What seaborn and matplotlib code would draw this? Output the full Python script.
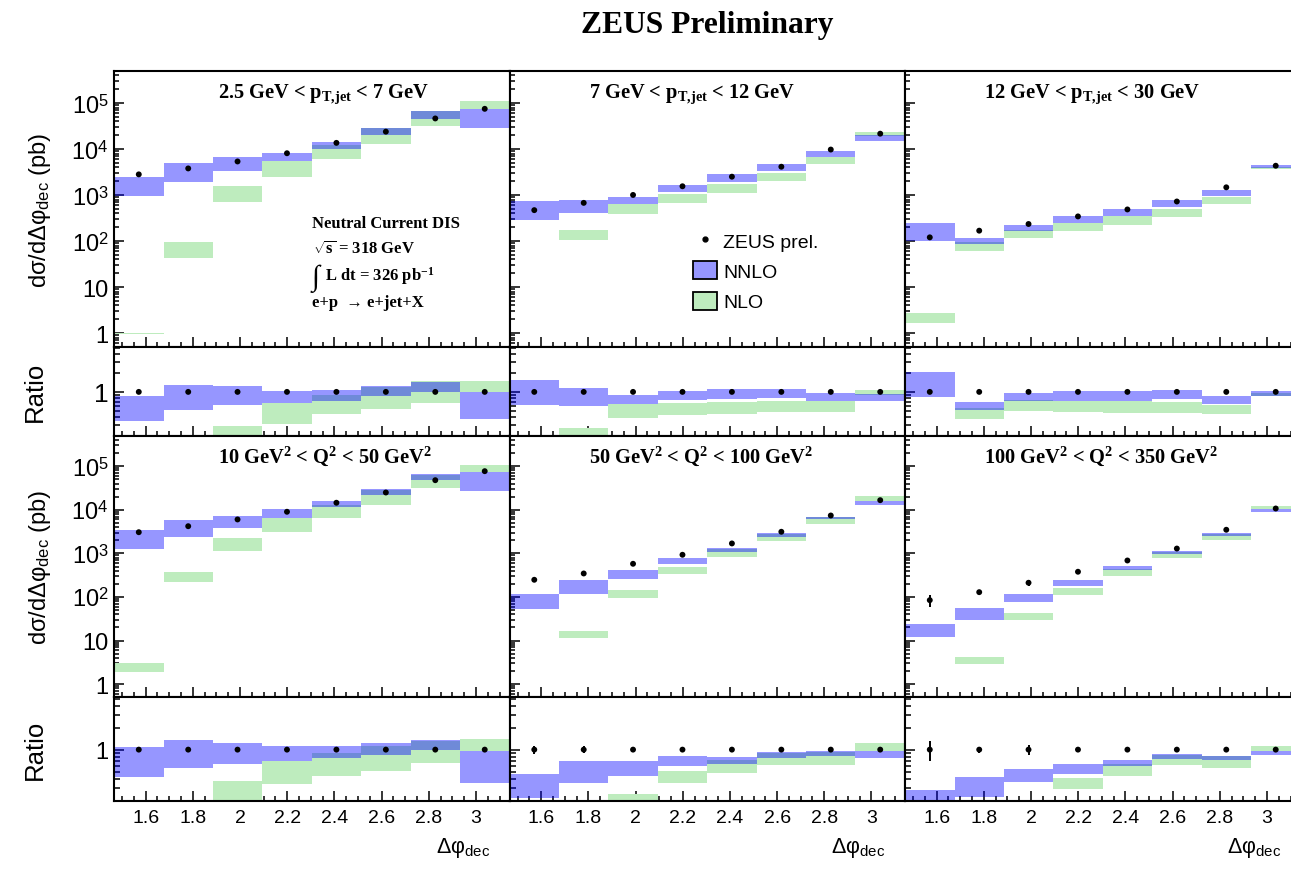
import numpy as np
import matplotlib
matplotlib.use("Agg")
import matplotlib.pyplot as plt
import seaborn as sns
from matplotlib.patches import Patch
from matplotlib.lines import Line2D
from matplotlib.ticker import FixedLocator, FixedFormatter, NullFormatter, MultipleLocator

# ---- binning in delta-phi_dec (radians) ----
bin_edges = [1.466, 1.676, 1.885, 2.094, 2.304, 2.513, 2.723, 2.932, 3.142]
x_ticks = [1.6, 1.8, 2.0, 2.2, 2.4, 2.6, 2.8, 3.0]
x_tick_labels = ["1.6", "1.8", "2", "2.2", "2.4", "2.6", "2.8", "3"]
y_ticks = [1, 10, 1e2, 1e3, 1e4, 1e5]
y_tick_labels = ["1", "10", "10$^{\\mathsf{2}}$", "10$^{\\mathsf{3}}$",
                 "10$^{\\mathsf{4}}$", "10$^{\\mathsf{5}}$"]
ratio_minor = [0.2, 0.3, 0.4, 0.5, 0.6, 0.7, 0.8, 0.9, 2, 3, 4, 5]

# ---- 2.5 GeV < pT,jet < 7 GeV ----
data_pt1 = [2830, 3810, 5400, 8150, 13700, 24000, 46500, 75300]
err_pt1 = [0.04, 0.04, 0.04, 0.04, 0.04, 0.04, 0.04, 0.04]
nnlo_lo_pt1 = [960, 1930, 3330, 5400, 9950, 20700, 45800, 28300]
nnlo_hi_pt1 = [2440, 4890, 6600, 8430, 14600, 29300, 66000, 75300]
nlo_lo_pt1 = [0.98, 42, 713, 2470, 6050, 12800, 31300, 75300]
nlo_hi_pt1 = [1.02, 96, 1560, 5400, 12100, 28500, 69000, 112000]

# ---- 7 GeV < pT,jet < 12 GeV ----
data_pt2 = [472, 680, 1010, 1560, 2520, 4150, 9800, 21700]
err_pt2 = [0.05, 0.04, 0.04, 0.04, 0.04, 0.04, 0.04, 0.04]
nnlo_lo_pt2 = [287, 406, 646, 1160, 1930, 3330, 6920, 15300]
nnlo_hi_pt2 = [728, 776, 902, 1640, 2830, 4640, 9330, 19950]
nlo_lo_pt2 = [np.nan, 105, 393, 668, 1100, 1990, 4640, 19400]
nlo_hi_pt2 = [np.nan, 179, 646, 1040, 1750, 2970, 6920, 23200]

# ---- 12 GeV < pT,jet < 30 GeV ----
data_pt3 = [121, 169, 236, 345, 489, 728, 1480, 4360]
err_pt3 = [0.05, 0.04, 0.04, 0.04, 0.04, 0.04, 0.04, 0.04]
nnlo_lo_pt3 = [101, 88, 166, 251, 356, 556, 946, 3810]
nnlo_hi_pt3 = [251, 117, 227, 356, 504, 776, 1280, 4430]
nlo_lo_pt3 = [1.7, 62, 117, 166, 227, 339, 646, 3700]
nlo_hi_pt3 = [2.8, 95, 177, 251, 345, 504, 902, 4150]

# ---- 10 GeV^2 < Q^2 < 50 GeV^2 ----
data_q1 = [3060, 4200, 6000, 9000, 14500, 24900, 47700, 76800]
err_q1 = [0.04, 0.04, 0.04, 0.04, 0.04, 0.04, 0.04, 0.04]
nnlo_lo_q1 = [1290, 2320, 3780, 6310, 11300, 21300, 47000, 26700]
nnlo_hi_q1 = [3350, 5690, 7390, 10200, 16300, 30300, 65600, 72800]
nlo_lo_q1 = [1.9, 215, 1110, 3060, 6410, 12800, 30900, 72800]
nlo_hi_q1 = [3.1, 379, 2200, 6310, 13200, 27700, 62200, 109000]

# ---- 50 GeV^2 < Q^2 < 100 GeV^2 ----
data_q2 = [248, 346, 577, 929, 1690, 3130, 7390, 16600]
err_q2 = [0.12, 0.11, 0.05, 0.04, 0.04, 0.04, 0.04, 0.04]
nnlo_lo_q2 = [54, 120, 252, 556, 1090, 2400, 6000, 12600]
nnlo_hi_q2 = [114, 239, 405, 764, 1360, 2860, 7010, 15700]
nlo_lo_q2 = [np.nan, 11.7, 97, 328, 806, 1900, 4600, 15700]
nlo_hi_q2 = [np.nan, 17, 141, 475, 1230, 2800, 6900, 20200]

# ---- 100 GeV^2 < Q^2 < 350 GeV^2 ----
data_q3 = [84.5, 129, 212, 379, 687, 1290, 3480, 10700]
err_q3 = [0.30, 0.10, 0.16, 0.05, 0.05, 0.04, 0.04, 0.04]
nnlo_lo_q3 = [11.8, 28.9, 76, 174, 406, 960, 2480, 9000]
nnlo_hi_q3 = [23.4, 54.5, 114, 239, 501, 1110, 2860, 10300]
nlo_lo_q3 = [np.nan, 2.9, 28.9, 110, 300, 789, 1980, 10200]
nlo_hi_q3 = [np.nan, 4.1, 41.9, 157, 434, 1100, 2850, 12100]

panel_labels = [
    "2.5 GeV < p$_{\\mathbf{T{,}jet}}$ < 7 GeV",
    "7 GeV < p$_{\\mathbf{T{,}jet}}$ < 12 GeV",
    "12 GeV < p$_{\\mathbf{T{,}jet}}$ < 30 GeV",
    "10 GeV$^{\\mathbf{2}}$ < Q$^{\\mathbf{2}}$ < 50 GeV$^{\\mathbf{2}}$",
    "50 GeV$^{\\mathbf{2}}$ < Q$^{\\mathbf{2}}$ < 100 GeV$^{\\mathbf{2}}$",
    "100 GeV$^{\\mathbf{2}}$ < Q$^{\\mathbf{2}}$ < 350 GeV$^{\\mathbf{2}}$",
]

panels = [
    (data_pt1, err_pt1, nnlo_lo_pt1, nnlo_hi_pt1, nlo_lo_pt1, nlo_hi_pt1),
    (data_pt2, err_pt2, nnlo_lo_pt2, nnlo_hi_pt2, nlo_lo_pt2, nlo_hi_pt2),
    (data_pt3, err_pt3, nnlo_lo_pt3, nnlo_hi_pt3, nlo_lo_pt3, nlo_hi_pt3),
    (data_q1, err_q1, nnlo_lo_q1, nnlo_hi_q1, nlo_lo_q1, nlo_hi_q1),
    (data_q2, err_q2, nnlo_lo_q2, nnlo_hi_q2, nlo_lo_q2, nlo_hi_q2),
    (data_q3, err_q3, nnlo_lo_q3, nnlo_hi_q3, nlo_lo_q3, nlo_hi_q3),
]

# ---- style ----
sns.set_theme(style="ticks")
plt.rcParams["font.family"] = ["Liberation Sans", "DejaVu Sans"]
plt.rcParams["mathtext.fontset"] = "custom"
plt.rcParams["mathtext.rm"] = "Liberation Serif:bold"
plt.rcParams["mathtext.bf"] = "Liberation Serif:bold"
plt.rcParams["mathtext.it"] = "Liberation Serif:italic:bold"
plt.rcParams["mathtext.sf"] = "Liberation Sans"
plt.rcParams["text.color"] = "black"
plt.rcParams["axes.labelcolor"] = "black"
plt.rcParams["xtick.color"] = "black"
plt.rcParams["ytick.color"] = "black"
plt.rcParams["xtick.labelcolor"] = "black"
plt.rcParams["ytick.labelcolor"] = "black"

NNLO_COLOR = (0.0, 0.0, 1.0, 0.41)
NLO_COLOR = (0.745, 0.925, 0.745)
SERIF = ["Liberation Serif", "DejaVu Serif"]

W, H = 1291, 870
fig = plt.figure(figsize=(W / 100, H / 100), dpi=100)

edges = np.asarray(bin_edges)
centers = 0.5 * (edges[:-1] + edges[1:])
widths = np.diff(edges)

col_left = [114, 509.5, 905]
col_w = 395.5
row_main = [(72, 348), (436.7, 698.3)]
row_ratio = [(348, 436.7), (698.3, 801.7)]


def add_ax(xl, yt, yb):
    return fig.add_axes([xl / W, 1 - yb / H, col_w / W, (yb - yt) / H])


def draw_bands(ax, nnlo_lo, nnlo_hi, nlo_lo, nlo_hi):
    # NLO underneath, translucent NNLO on top
    for lo, hi, col in [(nlo_lo, nlo_hi, NLO_COLOR), (nnlo_lo, nnlo_hi, NNLO_COLOR)]:
        lo = np.asarray(lo, float)
        hi = np.asarray(hi, float)
        m = np.isfinite(lo) & np.isfinite(hi)
        ax.bar(centers[m], (hi - lo)[m], bottom=lo[m], width=widths[m],
               color=col, linewidth=0, align="center", zorder=2)


def draw_points(ax, y, rel_err):
    y = np.asarray(y, float)
    e = np.asarray(rel_err, float) * y
    ax.errorbar(centers, y, yerr=e, fmt="none", ecolor="black",
                elinewidth=1.4, capsize=0, zorder=5)
    sns.scatterplot(x=centers, y=y, ax=ax, color="black", s=18,
                    edgecolor="none", legend=False, zorder=6)


def frame(ax):
    ax.set_xlim(edges[0], edges[-1])
    ax.xaxis.set_major_locator(FixedLocator(x_ticks))
    ax.xaxis.set_minor_locator(MultipleLocator(0.05))
    ax.xaxis.set_major_formatter(NullFormatter())
    for s in ax.spines.values():
        s.set_visible(True)
        s.set_linewidth(1.5)
        s.set_color("black")
    ax.tick_params(which="both", direction="in", top=False, right=False,
                   bottom=True, left=True, color="black", width=1.1)
    ax.tick_params(which="major", length=7.2)
    ax.tick_params(which="minor", length=3.6)
    ax.set_xlabel("")
    ax.set_ylabel("")


for i, (vals, label) in enumerate(zip(panels, panel_labels)):
    data, err, nnlo_lo, nnlo_hi, nlo_lo, nlo_hi = vals
    r, c = divmod(i, 3)
    data_arr = np.asarray(data, float)

    # cross-section panel
    ax = add_ax(col_left[c], *row_main[r])
    ax.set_yscale("log")
    draw_bands(ax, nnlo_lo, nnlo_hi, nlo_lo, nlo_hi)
    draw_points(ax, data, err)
    frame(ax)
    ax.set_ylim(0.5, 5e5)
    ax.yaxis.set_major_locator(FixedLocator(y_ticks))
    ax.yaxis.set_minor_locator(FixedLocator(
        [m * 10.0 ** k for k in range(-1, 6) for m in range(2, 10)]))
    ax.yaxis.set_minor_formatter(NullFormatter())
    if c == 0:
        ax.yaxis.set_major_formatter(FixedFormatter(y_tick_labels))
        ax.tick_params(axis="y", labelsize=17, pad=4)
    else:
        ax.yaxis.set_major_formatter(NullFormatter())
    ax.text(0.263 if c == 0 else 0.2, 1 - 26.3 / (row_main[r][1] - row_main[r][0]),
            label, transform=ax.transAxes, ha="left", va="baseline",
            fontfamily=SERIF, fontweight="bold", fontsize=14.7, zorder=10)

    # ratio panel (theory / data)
    axr = add_ax(col_left[c], *row_ratio[r])
    axr.set_yscale("log")
    draw_bands(axr,
               np.asarray(nnlo_lo, float) / data_arr, np.asarray(nnlo_hi, float) / data_arr,
               np.asarray(nlo_lo, float) / data_arr, np.asarray(nlo_hi, float) / data_arr)
    draw_points(axr, np.ones_like(data_arr), err)
    frame(axr)
    axr.set_ylim(0.2, 5.2)
    axr.yaxis.set_major_locator(FixedLocator([1]))
    axr.yaxis.set_minor_locator(FixedLocator(ratio_minor))
    axr.yaxis.set_minor_formatter(NullFormatter())
    axr.tick_params(axis="y", which="minor", length=4.5)
    if c == 0:
        axr.yaxis.set_major_formatter(FixedFormatter(["1"]))
        axr.tick_params(axis="y", labelsize=19 if r == 0 else 17, pad=4)
    else:
        axr.yaxis.set_major_formatter(NullFormatter())
    if r == 1:
        axr.xaxis.set_major_formatter(FixedFormatter(x_tick_labels))
        axr.tick_params(axis="x", labelsize=14, pad=6)
        fig.text((col_left[c] + col_w - 19.5) / W, 1 - 853 / H,
                 "Δφ$_{\\mathsf{dec}}$", ha="right", va="baseline", fontsize=15.5)

    if c == 1 and r == 0:
        handles = [
            Line2D([], [], marker="o", color="black", linestyle="none", markersize=3.5),
            Patch(facecolor=NNLO_COLOR, edgecolor="black", linewidth=1.3),
            Patch(facecolor=NLO_COLOR, edgecolor="black", linewidth=1.3),
        ]
        fig.legend(handles, ["ZEUS prel.", "NNLO", "NLO"], loc="upper left",
                   bbox_to_anchor=(693 / W, 1 - 232 / H), frameon=False, fontsize=14,
                   handlelength=1.25, handleheight=1.05, handletextpad=0.3,
                   labelspacing=0.55, borderpad=0, borderaxespad=0)

# axis titles
for (yt, yb) in row_main:
    fig.text(40 / W, 1 - 0.5 * (yt + yb) / H, "dσ/dΔφ$_{\\mathsf{dec}}$ (pb)",
             rotation=90, ha="center", va="center", fontsize=17)
for (yt, yb) in row_ratio:
    fig.text(35 / W, 1 - 0.5 * (yt + yb) / H, "Ratio",
             rotation=90, ha="center", va="center", fontsize=18.5)

# run conditions
fig.text(311.7 / W, 1 - 228.3 / H, "Neutral Current DIS", ha="left", va="baseline",
         fontfamily=SERIF, fontweight="bold", fontsize=12)
fig.text(313 / W, 1 - 254.3 / H, "$\\sqrt{\\mathbf{s}}$ = 318 GeV", ha="left", va="baseline",
         fontfamily=SERIF, fontweight="bold", fontsize=12)
fig.text(311.7 / W, 1 - 285 / H, "∫", ha="left", va="baseline",
         fontfamily=SERIF, fontsize=21)
fig.text(325 / W, 1 - 280.7 / H, "L dt = 326 pb$^{\\mathbf{-1}}$", ha="left", va="baseline",
         fontfamily=SERIF, fontweight="bold", fontsize=12)
fig.text(311.7 / W, 1 - 306.7 / H, "e+p  → e+jet+X", ha="left", va="baseline",
         fontfamily=SERIF, fontweight="bold", fontsize=12)

fig.text(707 / W, 1 - 33.3 / H, "ZEUS Preliminary", ha="center", va="baseline",
         fontfamily=SERIF, fontweight="bold", fontsize=22.7)

fig.savefig("out.png", dpi=100)
